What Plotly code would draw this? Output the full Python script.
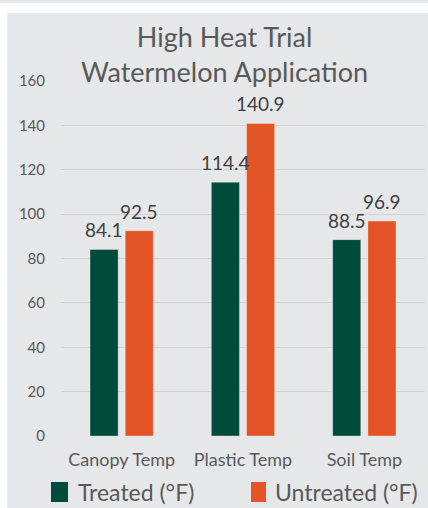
import plotly.graph_objects as go

categories = ["Canopy Temp", "Plastic Temp", "Soil Temp"]
treated = [84.1, 114.4, 88.5]
untreated = [92.5, 140.9, 96.9]
series_names = ["Treated (°F)", "Untreated (°F)"]
y_ticks = [0, 20, 40, 60, 80, 100, 120, 140, 160]

GREEN = "#014B3A"
ORANGE = "#E35427"
PANEL = "#E6E7E8"
GRID = "#D2D3D4"
TEXT = "#595959"
FONT = "Lato"

W, H = 428, 508
L, R, T, B = 61, 3, 81, 72
PW, PH = W - L - R, H - T - B


def px(X):
    return (X - L) / PW


def py(Y):
    return (H - B - Y) / PH


fig = go.Figure()
for name, vals, col in [(series_names[0], treated, GREEN), (series_names[1], untreated, ORANGE)]:
    fig.add_trace(go.Bar(
        x=categories, y=vals, name=name,
        marker=dict(color=col, line=dict(color="rgba(255,255,255,0.35)", width=1)),
        showlegend=False,
    ))

annotations = []
for vals, shift in [(treated, -17.5), (untreated, 17.5)]:
    for c, v in zip(categories, vals):
        annotations.append(dict(
            x=c, y=v, xref="x", yref="y", text=f"{v:.1f}", showarrow=False,
            xshift=shift, yshift=6, yanchor="bottom",
            font=dict(family=FONT, size=19, color="#404040"),
        ))

# title
annotations.append(dict(
    x=px(224), y=py(54), xref="paper", yref="paper", showarrow=False,
    text="High Heat Trial<br>Watermelon Application",
    font=dict(family=FONT, size=27, color=TEXT), xanchor="center", yanchor="middle",
))

shapes = [
    dict(type="rect", xref="paper", yref="paper", x0=px(8), x1=px(428), y0=py(508), y1=py(13),
         fillcolor=PANEL, line=dict(width=0), layer="below"),
    dict(type="rect", xref="paper", yref="paper", x0=px(0), x1=px(428), y0=py(3), y1=py(0),
         fillcolor=PANEL, line=dict(width=0), layer="below"),
    dict(type="line", xref="paper", yref="paper", x0=px(7.5), x1=px(7.5), y0=py(508), y1=py(13),
         line=dict(color="#EDEDED", width=1), layer="below"),
]
# custom legend
for (x0, x1, tx), name, col in [((51, 68, 76), series_names[0], GREEN), ((251, 266, 273), series_names[1], ORANGE)]:
    shapes.append(dict(type="rect", xref="paper", yref="paper", x0=px(x0), x1=px(x1),
                       y0=py(502), y1=py(482), fillcolor=col, line=dict(width=0)))
    annotations.append(dict(x=px(tx), y=py(492), xref="paper", yref="paper", text=name,
                            showarrow=False, xanchor="left", yanchor="middle",
                            font=dict(family=FONT, size=23, color=TEXT)))

fig.update_layout(
    width=W, height=H,
    margin=dict(l=L, r=R, t=T, b=B, autoexpand=False),
    paper_bgcolor="white", plot_bgcolor="rgba(0,0,0,0)",
    barmode="group", bargap=0.42, bargroupgap=0.2,
    font=dict(family=FONT, color=TEXT),
    shapes=shapes, annotations=annotations,
    xaxis=dict(showgrid=False, showline=False, ticks="outside", ticklen=7,
               tickcolor="rgba(0,0,0,0)", tickfont=dict(size=18, color=TEXT)),
    yaxis=dict(range=[0, 160], tickvals=y_ticks, showgrid=True, gridcolor=GRID, gridwidth=1,
               zeroline=False, showline=False, ticks="outside", ticklen=12,
               tickcolor="rgba(0,0,0,0)", tickfont=dict(size=15, color=TEXT)),
)

fig.write_html("out.html", config={"displayModeBar": False})

with open("out.html", "r", encoding="utf-8") as f:
    html = f.read()
html = html.replace("<head>", "<head><style>html,body{margin:0;padding:0;overflow:hidden;}</style>", 1)
with open("out.html", "w", encoding="utf-8") as f:
    f.write(html)
